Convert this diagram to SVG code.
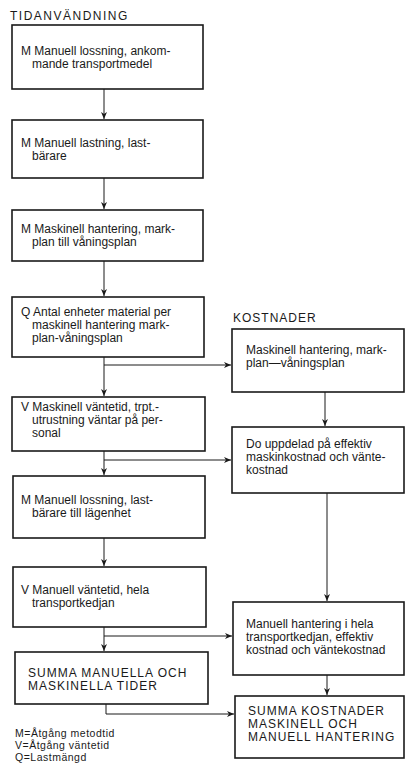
<svg xmlns="http://www.w3.org/2000/svg" width="409" height="763" viewBox="0 0 409 763">
<style>
text{font-family:"Liberation Sans",Arial,sans-serif;font-size:12px;fill:#1a1a1a;letter-spacing:0px}
.cap{letter-spacing:1px}
.ttl{letter-spacing:1.5px}
.leg{font-size:10.5px;letter-spacing:0.5px}
.box{fill:#fff;stroke:#1a1a1a;stroke-width:1.6}
.con{fill:none;stroke:#1a1a1a;stroke-width:1}
</style>
<defs>
<marker id="ah" markerUnits="userSpaceOnUse" markerWidth="8" markerHeight="8" refX="7" refY="3" orient="auto">
<path d="M0,0 L7,3 L0,6 L2,3 Z" fill="#1a1a1a"/>
</marker>
</defs>
<rect width="409" height="763" fill="#fff"/>
<text class="ttl" x="10" y="20">TIDANVÄNDNING</text>
<text class="cap" x="233" y="322">KOSTNADER</text>
<g id="connectors">
<line class="con" x1="104" y1="89" x2="104" y2="119" marker-end="url(#ah)"/>
<line class="con" x1="104" y1="178" x2="104" y2="209" marker-end="url(#ah)"/>
<line class="con" x1="104" y1="261" x2="104" y2="296" marker-end="url(#ah)"/>
<line class="con" x1="104" y1="357" x2="104" y2="396" marker-end="url(#ah)"/>
<line class="con" x1="104" y1="365" x2="231" y2="365" marker-end="url(#ah)"/>
<line class="con" x1="104" y1="451" x2="104" y2="475" marker-end="url(#ah)"/>
<line class="con" x1="104" y1="460" x2="231" y2="460" marker-end="url(#ah)"/>
<line class="con" x1="104" y1="538" x2="104" y2="566" marker-end="url(#ah)"/>
<line class="con" x1="104" y1="627" x2="104" y2="651" marker-end="url(#ah)"/>
<line class="con" x1="104" y1="636" x2="232" y2="636" marker-end="url(#ah)"/>
<polyline class="con" points="106,704 106,714 234,714" marker-end="url(#ah)"/>
<line class="con" x1="325" y1="392" x2="325" y2="426" marker-end="url(#ah)"/>
<line class="con" x1="327" y1="493" x2="327" y2="601" marker-end="url(#ah)"/>
<line class="con" x1="327" y1="675" x2="327" y2="695" marker-end="url(#ah)"/>
</g>
<g id="n1"><rect class="box" x="12" y="25" width="191" height="64"/>
<text x="21" y="55">M Manuell lossning, ankom-</text><text x="32" y="68">mande transportmedel</text></g>
<g id="n2"><rect class="box" x="12" y="120" width="191" height="58"/>
<text x="21" y="147">M Manuell lastning, last-</text><text x="32" y="160">bärare</text></g>
<g id="n3"><rect class="box" x="12" y="210" width="191" height="51"/>
<text x="21" y="233">M Maskinell hantering, mark-</text><text x="32" y="246">plan till våningsplan</text></g>
<g id="n4"><rect class="box" x="12" y="297" width="192" height="60"/>
<text x="21" y="316">Q Antal enheter material per</text><text x="32" y="329">maskinell hantering mark-</text><text x="32" y="342">plan-våningsplan</text></g>
<g id="n5"><rect class="box" x="12" y="397" width="193" height="54"/>
<text x="21" y="411">V Maskinell väntetid, trpt.-</text><text x="32" y="424">utrustning väntar på per-</text><text x="32" y="437">sonal</text></g>
<g id="n6"><rect class="box" x="13" y="476" width="192" height="62"/>
<text x="21" y="504">M Manuell lossning, last-</text><text x="32" y="517">bärare till lägenhet</text></g>
<g id="n7"><rect class="box" x="13" y="567" width="193" height="60"/>
<text x="21" y="594">V Manuell väntetid, hela</text><text x="32" y="607">transportkedjan</text></g>
<g id="n8"><rect class="box" x="15" y="652" width="193" height="52"/>
<text class="cap" x="28" y="677">SUMMA MANUELLA OCH</text><text class="cap" x="28" y="690">MASKINELLA TIDER</text></g>
<g id="legend">
<text class="leg" x="15" y="737">M=Åtgång metodtid</text><text class="leg" x="15" y="749">V=Åtgång väntetid</text><text class="leg" x="15" y="761">Q=Lastmängd</text></g>
<g id="k1"><rect class="box" x="232" y="329" width="172" height="63"/>
<text x="246" y="354">Maskinell hantering, mark-</text><text x="246" y="367">plan—våningsplan</text></g>
<g id="k2"><rect class="box" x="232" y="427" width="172" height="66"/>
<text x="246" y="448">Do uppdelad på effektiv</text><text x="246" y="461">maskinkostnad och vänte-</text><text x="246" y="474">kostnad</text></g>
<g id="k3"><rect class="box" x="233" y="602" width="171" height="73"/>
<text x="246" y="628">Manuell hantering i hela</text><text x="246" y="641">transportkedjan, effektiv</text><text x="246" y="654">kostnad och väntekostnad</text></g>
<g id="k4"><rect class="box" x="235" y="696" width="169" height="62"/>
<text class="cap" x="248" y="715">SUMMA KOSTNADER</text><text class="cap" x="248" y="728">MASKINELL OCH</text><text class="cap" x="248" y="741">MANUELL HANTERING</text></g>
</svg>
